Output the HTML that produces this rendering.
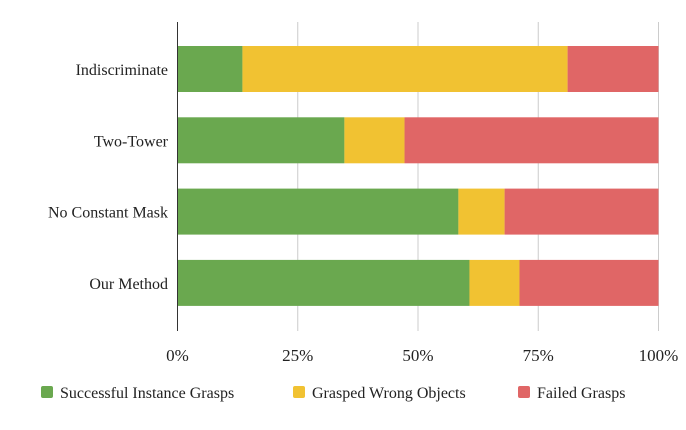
<!DOCTYPE html>
<html><head><meta charset="utf-8"><style>
body{margin:0;background:#fff;}
svg text{font-family:"Liberation Serif",serif;fill:#222;}
</style></head><body>
<svg width="686" height="425" xmlns="http://www.w3.org/2000/svg">
<g id="grid"></g><g id="bars"></g><g id="labels"></g>
<line x1="177.5" y1="22" x2="177.5" y2="331" stroke="#333" stroke-width="1"/>
<g id="legend">
<rect x="41" y="386" width="12" height="12" rx="2" fill="#6aa84f"/>
<text x="60" y="398" font-size="16">Successful Instance Grasps</text>
<rect x="293" y="386" width="12" height="12" rx="2" fill="#f1c232"/>
<text x="312" y="398" font-size="16">Grasped Wrong Objects</text>
<rect x="518" y="386" width="12" height="12" rx="2" fill="#e06666"/>
<text x="537" y="398" font-size="16">Failed Grasps</text>
</g>
</svg>
<script>
const categories=["Indiscriminate","Two-Tower","No Constant Mask","Our Method"];
const successful=[13.5,34.7,58.4,60.7];
const wrong=[67.6,12.5,9.6,10.4];
const failed=[18.9,52.8,32.0,28.9];
const ticks=[0,25,50,75,100];
const tickLabels=["0%","25%","50%","75%","100%"];
const NS="http://www.w3.org/2000/svg";
const x0=177.5,x1=658.5;
function xs(v){return x0+(x1-x0)*v/100;}
function yc(i){return 46+i*71.3;}
const bh=46;
const grid=document.getElementById('grid'),bars=document.getElementById('bars'),labels=document.getElementById('labels');
function mk(tag,attrs,parent){const e=document.createElementNS(NS,tag);for(const k in attrs)e.setAttribute(k,attrs[k]);parent.appendChild(e);return e;}
ticks.forEach((t,i)=>{
  if(i>0){const l=mk('line',{x1:xs(t),x2:xs(t),y1:22,y2:331,stroke:'#ccc','stroke-width':1},grid);
  
  }
  const tx=mk('text',{x:xs(t),y:361,'font-size':17,'text-anchor':'middle'},labels);
  tx.textContent=tickLabels[i];
  
  
});
const series=[[successful,'#6aa84f','successful'],[wrong,'#f1c232','wrong'],[failed,'#e06666','failed']];
categories.forEach((c,i)=>{
  let acc=0;
  series.forEach(([arr,col,nm])=>{
    const r=mk('rect',{x:xs(acc),y:yc(i),width:xs(acc+arr[i])-xs(acc),height:bh,fill:col},bars);
    
    
    acc+=arr[i];
  });
  const t=mk('text',{x:168,y:yc(i)+bh/2+6,'font-size':16,'text-anchor':'end'},labels);
  t.textContent=c;
  
  
});
</script>
</body></html>
